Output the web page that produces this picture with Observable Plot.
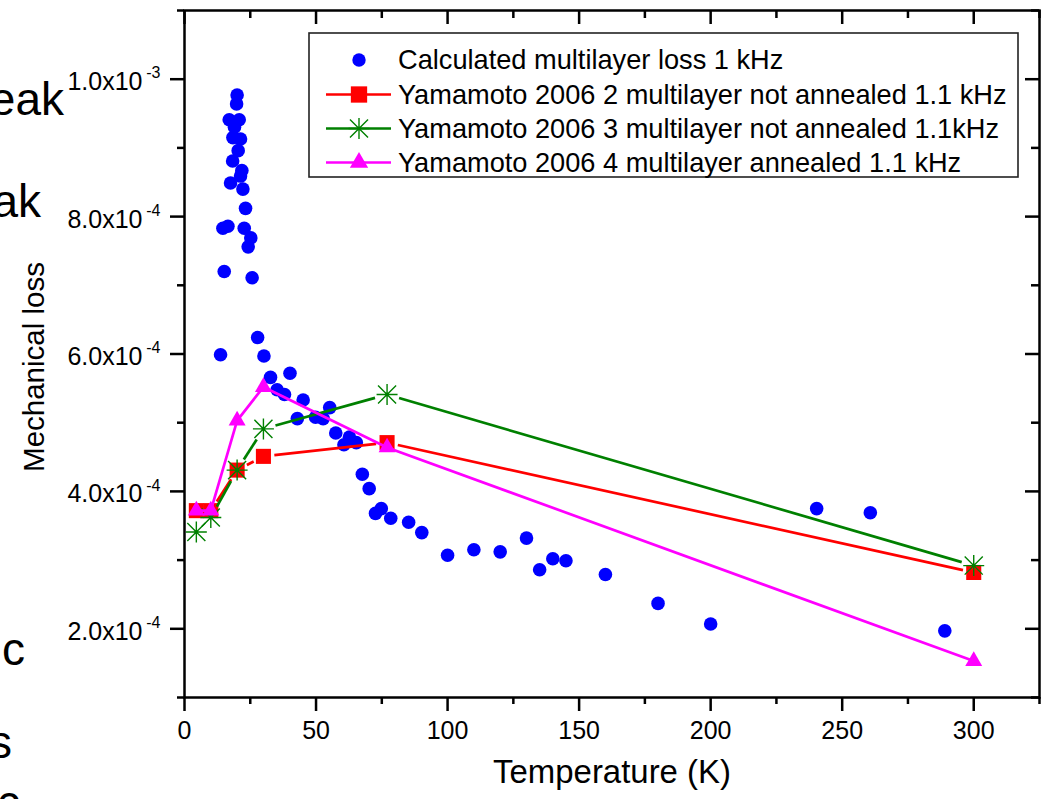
<!DOCTYPE html>
<html><head><meta charset="utf-8">
<script src="https://cdn.jsdelivr.net/npm/d3@7"></script>
<script src="https://cdn.jsdelivr.net/npm/@observablehq/plot@0.6"></script>
<style>
html,body{margin:0;padding:0;background:#fff;}
#wrap{position:relative;width:1042px;height:799px;overflow:hidden;}
#overlay{position:absolute;left:0;top:0;pointer-events:none;}
</style></head><body><div id="wrap"></div>
<script>
// ---- data ----
const calcT = [20.0, 19.8, 17.0, 20.8, 19.0, 18.4, 21.3, 20.4, 18.3, 21.8, 21.3, 17.5, 22.2, 23.2, 14.6, 16.5, 22.7, 25.2, 24.2, 15.1, 25.7, 27.8, 13.7, 30.2, 32.7, 40.1, 35.2, 38.0, 45.1, 55.2, 42.9, 49.8, 52.7, 57.5, 60.6, 62.7, 65.3, 67.6, 70.2, 72.6, 74.8, 78.4, 85.2, 90.2, 100, 110, 120, 130, 135, 140, 145, 160, 180, 200, 240.3, 260.7, 289];
const calcLoss = [9.77e-4, 9.64e-4, 9.41e-4, 9.41e-4, 9.30e-4, 9.15e-4, 9.13e-4, 8.96e-4, 8.81e-4, 8.67e-4, 8.59e-4, 8.49e-4, 8.40e-4, 8.12e-4, 7.83e-4, 7.86e-4, 7.83e-4, 7.69e-4, 7.56e-4, 7.20e-4, 7.11e-4, 6.24e-4, 5.99e-4, 5.97e-4, 5.66e-4, 5.72e-4, 5.48e-4, 5.41e-4, 5.33e-4, 5.22e-4, 5.06e-4, 5.08e-4, 5.06e-4, 4.85e-4, 4.68e-4, 4.79e-4, 4.71e-4, 4.25e-4, 4.04e-4, 3.68e-4, 3.75e-4, 3.61e-4, 3.55e-4, 3.40e-4, 3.07e-4, 3.15e-4, 3.12e-4, 3.32e-4, 2.86e-4, 3.02e-4, 2.99e-4, 2.79e-4, 2.37e-4, 2.07e-4, 3.75e-4, 3.69e-4, 1.97e-4];
const yamT = [4.5, 10, 20, 30, 77, 300];
const yam2Loss = [3.72e-4, 3.72e-4, 4.31e-4, 4.51e-4, 4.71e-4, 2.82e-4];
const yam3Loss = [3.41e-4, 3.62e-4, 4.31e-4, 4.91e-4, 5.41e-4, 2.92e-4];
const yam4Loss = [3.72e-4, 3.72e-4, 5.03e-4, 5.52e-4, 4.64e-4, 1.53e-4];
const xMajorTicks = [0, 50, 100, 150, 200, 250, 300];
const xMinorTicks = [25, 75, 125, 175, 225, 275, 325];
const yMajorTicks = [2e-4, 4e-4, 6e-4, 8e-4, 1e-3];
const yMinorTicks = [1e-4, 3e-4, 5e-4, 7e-4, 9e-4, 1.1e-3];
const yTickMantissa = ["2.0x10", "4.0x10", "6.0x10", "8.0x10", "1.0x10"];
const yTickExponent = ["-4", "-4", "-4", "-4", "-3"];
const legendLabels = [
  "Calculated multilayer loss 1 kHz",
  "Yamamoto 2006 2 multilayer not annealed 1.1 kHz",
  "Yamamoto 2006 3 multilayer not annealed 1.1kHz",
  "Yamamoto 2006 4 multilayer annealed 1.1 kHz"
];
const xLabel = "Temperature (K)";
const yLabel = "Mechanical loss";
const fragments = ["eak", "ak", "c", "s", "c"];

// ---- helpers ----
const FONT = "'Liberation Sans', Arial, Helvetica, sans-serif";
const BLUE = "#0000FF", RED = "#FF0000", GREEN = "#008000", PINK = "#FF00FF";
const pts = (xs, ys) => xs.map((x, i) => ({x, y: ys[i]}));
const segs = (xs, ys) => xs.slice(0, -1).map((x, i) => ({x1: x, y1: ys[i], x2: xs[i + 1], y2: ys[i + 1]}));
const starSymbol = {
  draw(ctx, size) {
    const r = Math.sqrt(size / Math.PI), d = r * 0.86;
    ctx.moveTo(-r, 0); ctx.lineTo(r, 0);
    ctx.moveTo(0, -r); ctx.lineTo(0, r);
    ctx.moveTo(-d, -d); ctx.lineTo(d, d);
    ctx.moveTo(-d, d); ctx.lineTo(d, -d);
  }
};
function gap(g) {
  return (index, scales, values, dims, ctx, next) => {
    const n = values.x1.length;
    const X1 = new Float64Array(n), Y1 = new Float64Array(n), X2 = new Float64Array(n), Y2 = new Float64Array(n);
    for (let i = 0; i < n; i++) {
      const ax = values.x1[i], ay = values.y1[i], bx = values.x2[i], by = values.y2[i];
      const L = Math.hypot(bx - ax, by - ay);
      if (L <= 2 * g) { X1[i] = X2[i] = ax; Y1[i] = Y2[i] = ay; continue; }
      const ux = (bx - ax) / L, uy = (by - ay) / L;
      X1[i] = ax + ux * g; Y1[i] = ay + uy * g; X2[i] = bx - ux * g; Y2[i] = by - uy * g;
    }
    return next(index, scales, {...values, x1: X1, y1: Y1, x2: X2, y2: Y2}, dims, ctx);
  };
}

const W = 1042, H = 799, ML = 184, MR = 3, MT = 10, MB = 102;
const FW = W - ML - MR, FH = H - MT - MB;

const chart = Plot.plot({
  width: W, height: H,
  marginLeft: ML, marginRight: MR, marginTop: MT, marginBottom: MB,
  style: {fontFamily: FONT, fontSize: "25px", color: "black", background: "white", overflow: "visible"},
  x: {domain: [0, 325], label: null},
  y: {domain: [1e-4, 1.1e-3], label: null},
  marks: [
    // data
    Plot.dot(pts(calcT, calcLoss), {x: "x", y: "y", r: 6.8, fill: BLUE}),
    Plot.link(segs(yamT, yam2Loss), {x1: "x1", y1: "y1", x2: "x2", y2: "y2", stroke: RED, strokeWidth: 2.7, render: gap(11)}),
    Plot.dot(pts(yamT, yam2Loss), {x: "x", y: "y", symbol: "square", r: 8.5, fill: RED}),
    Plot.link(segs(yamT, yam3Loss), {x1: "x1", y1: "y1", x2: "x2", y2: "y2", stroke: GREEN, strokeWidth: 2.7, render: gap(12.5)}),
    Plot.dot(pts(yamT, yam3Loss), {x: "x", y: "y", symbol: starSymbol, r: 10.5, stroke: GREEN, strokeWidth: 1.4, fill: "none"}),
    Plot.dot(pts(yamT, yam3Loss), {x: "x", y: "y", r: 1.8, fill: GREEN}),
    Plot.line(pts(yamT, yam4Loss), {x: "x", y: "y", stroke: PINK, strokeWidth: 2.7}),
    Plot.dot(pts(yamT, yam4Loss), {x: "x", y: "y", symbol: "triangle", r: 6.3, fill: PINK}),
    // axes: outward bottom / left
    Plot.axisX(xMajorTicks, {anchor: "bottom", tickSize: 14, tickPadding: 10, strokeWidth: 2.5, fontSize: 25, tickFormat: d => String(d), label: null}),
    Plot.axisX(xMinorTicks, {anchor: "bottom", tickSize: 7, strokeWidth: 2.5, tickFormat: () => "", label: null}),
    Plot.axisY(yMajorTicks, {anchor: "left", tickSize: 14, strokeWidth: 2.5, tickFormat: () => "", label: null}),
    Plot.axisY(yMinorTicks, {anchor: "left", tickSize: 7, strokeWidth: 2.5, tickFormat: () => "", label: null}),
    // inward top / right ticks
    Plot.tickX(xMajorTicks, {x: d => d, insetBottom: FH - 14, strokeWidth: 2.5, stroke: "black"}),
    Plot.tickX(xMinorTicks, {x: d => d, insetBottom: FH - 8, strokeWidth: 2.5, stroke: "black"}),
    Plot.tickY(yMajorTicks, {y: d => d, insetLeft: FW - 14, strokeWidth: 2.5, stroke: "black"}),
    Plot.tickY(yMinorTicks, {y: d => d, insetLeft: FW - 8, strokeWidth: 2.5, stroke: "black"}),
    // y tick labels with superscript exponent
    Plot.text(yMajorTicks, {y: d => d, frameAnchor: "left", text: yTickMantissa, textAnchor: "end", dx: -42, dy: 3, fontSize: 25, fill: "black"}),
    Plot.text(yMajorTicks, {y: d => d, frameAnchor: "left", text: yTickExponent, textAnchor: "end", dx: -24, dy: -6, fontSize: 16, fill: "black"}),
    // axis titles
    Plot.text([xLabel], {frameAnchor: "bottom", text: d => d, dy: 85, fontSize: 34, fill: "black"}),
    Plot.text([yLabel], {frameAnchor: "left", text: d => d, textAnchor: "middle", dx: -150, dy: 13, rotate: -90, fontSize: 29.5, fill: "black"}),
    Plot.frame({stroke: "black", strokeWidth: 2.5})
  ]
});
// slightly condensed x-axis title, as in the reference
d3.select(chart).selectAll("text").filter(function () { return this.textContent === xLabel; })
  .attr("textLength", 238).attr("lengthAdjust", "spacingAndGlyphs");
document.getElementById("wrap").appendChild(chart);

// ---- overlay: legend and cut-off slide text ----
const ov = d3.select("#wrap").append("svg").attr("id", "overlay")
  .attr("width", W).attr("height", H).style("font-family", FONT);

const lg = ov.append("g");
lg.append("rect").attr("x", 309).attr("y", 33).attr("width", 709).attr("height", 144)
  .attr("fill", "white").attr("stroke", "#222").attr("stroke-width", 1.6);
const rowY = [60, 94.5, 128.5, 162.5];
const symX = 359;
const legendStyles = [
  {line: null, sym: d3.symbolCircle, r: 6.7, fill: BLUE},
  {line: RED, sym: d3.symbolSquare, r: 9.2, fill: RED},
  {line: GREEN, sym: starSymbol, r: 10.5, stroke: GREEN},
  {line: PINK, sym: d3.symbolTriangle, r: 6.8, fill: PINK}
];
legendLabels.forEach((label, i) => {
  const s = legendStyles[i], cy = rowY[i];
  if (s.line) {
    lg.append("line").attr("x1", 326).attr("x2", 391).attr("y1", cy).attr("y2", cy)
      .attr("stroke", s.line).attr("stroke-width", 2.7);
  }
  lg.append("path").attr("transform", `translate(${symX},${cy})`)
    .attr("d", d3.symbol(s.sym, Math.PI * s.r * s.r)())
    .attr("fill", s.fill || "none").attr("stroke", s.stroke || "none").attr("stroke-width", 1.4);
  if (s.stroke) lg.append("circle").attr("cx", symX).attr("cy", cy).attr("r", 1.8).attr("fill", s.stroke);
  lg.append("text").attr("x", 398).attr("y", cy + 9).attr("font-size", 27.2).attr("fill", "black").text(label);
});

const fragPos = [[64, 115], [41, 217], [25, 665], [12, 758], [20, 818]];
fragments.forEach((t, i) => {
  ov.append("text").attr("x", fragPos[i][0]).attr("y", fragPos[i][1]).attr("text-anchor", "end")
    .attr("font-size", 46).attr("fill", "black").text(t);
});
</script></body></html>
